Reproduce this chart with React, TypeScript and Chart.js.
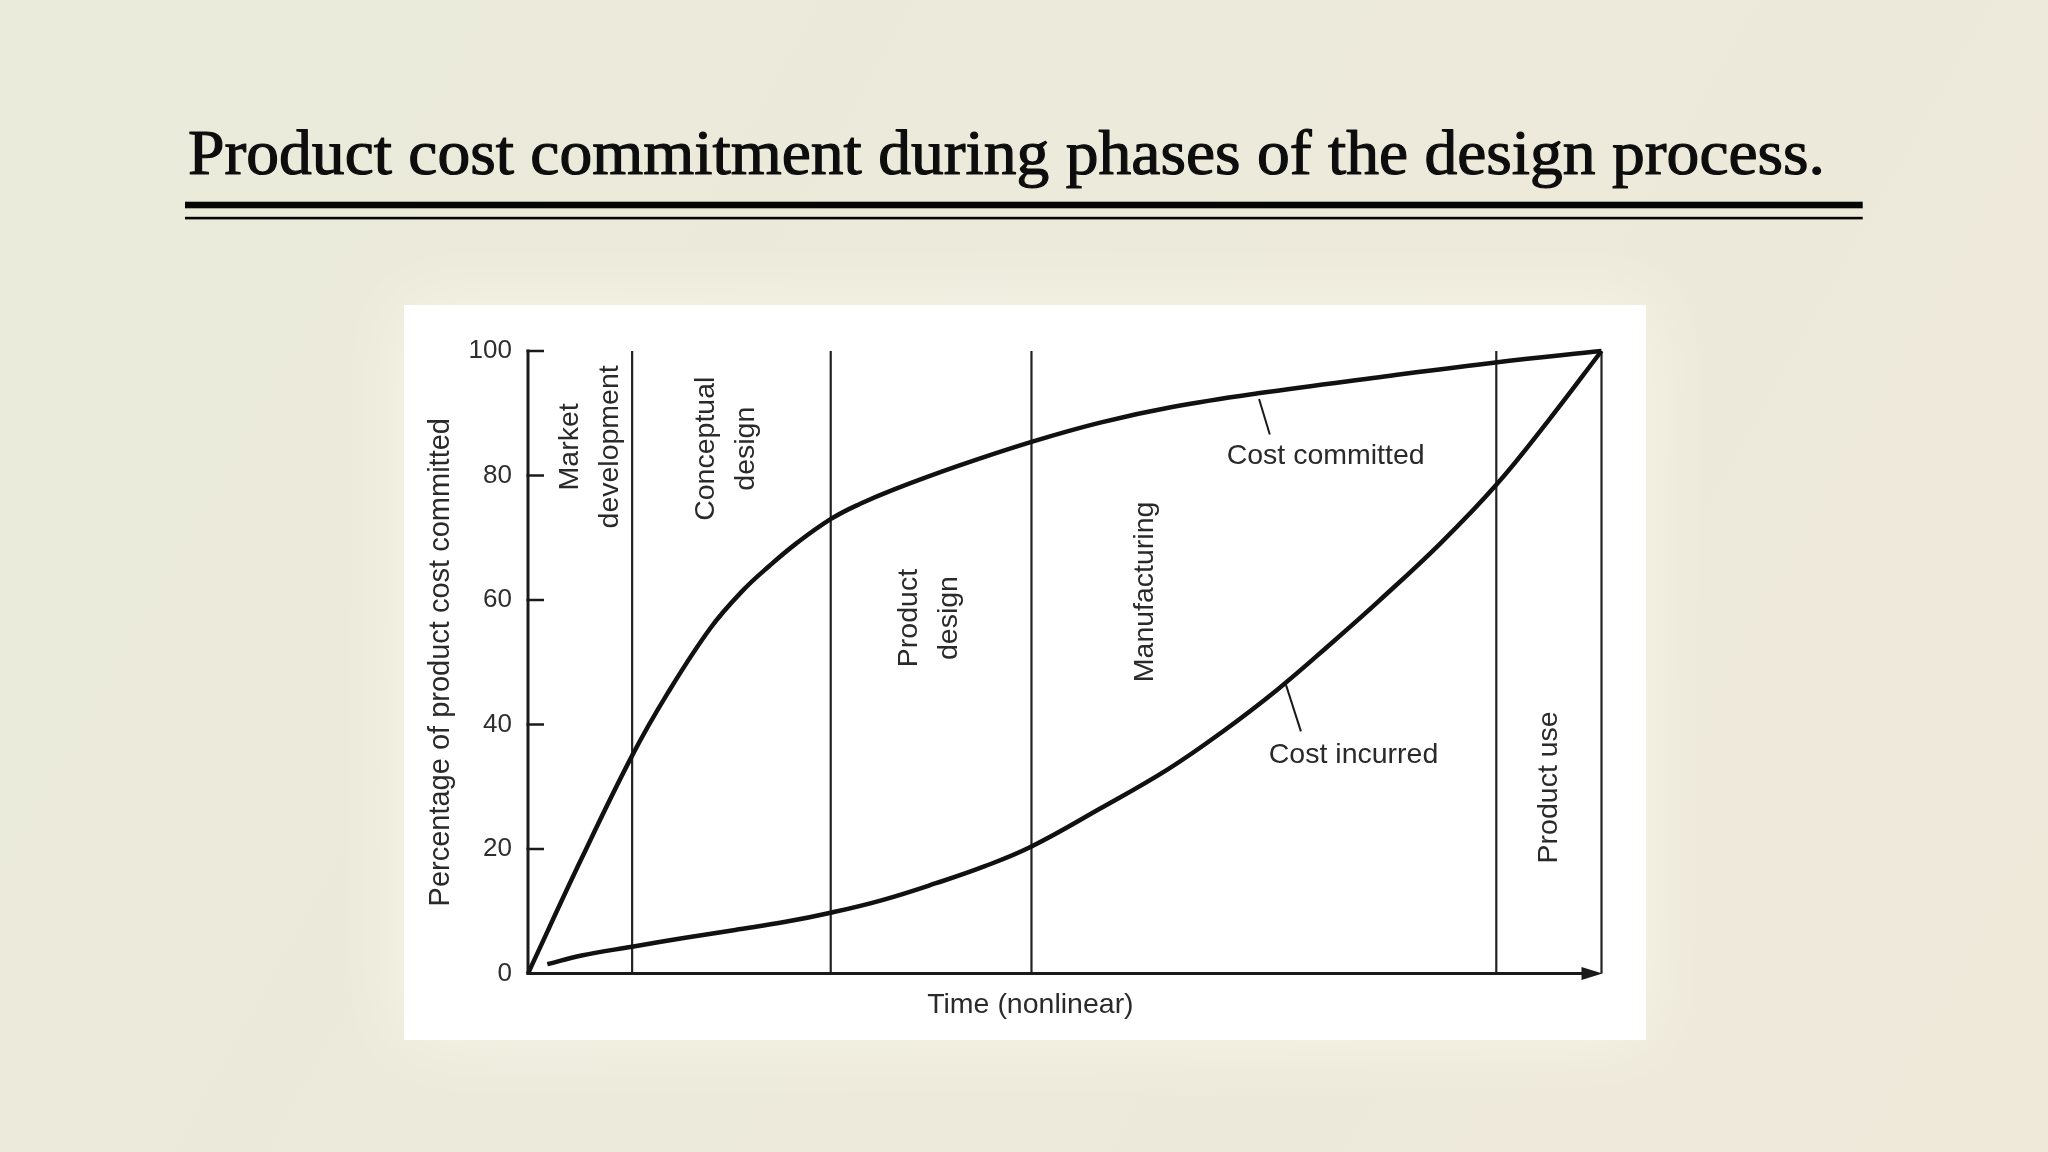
import React, { useEffect, useRef } from 'react';
import { Chart, registerables } from 'chart.js';

Chart.register(...registerables);

// ---------- data ----------
const titleText = 'Product cost commitment during phases of the design process.';
const yAxisTitle = 'Percentage of product cost committed';
const xAxisTitle = 'Time (nonlinear)';

const committedTime = [0, 5, 9.7, 13, 17, 20, 22.5, 25, 28.3, 31, 34, 40, 46.9, 53.3, 60, 68, 79.3, 90.3, 100];
const committedCost = [0, 18.5, 35, 45, 55.5, 61.5, 65.5, 69.1, 73.1, 75.5, 77.7, 81.5, 85.4, 88.5, 91, 93.2, 95.8, 98.2, 100];

const incurredTime = [1.8, 5, 9.7, 14.5, 19.3, 24, 28.3, 33, 38, 42.5, 46.9, 53.3, 59.6, 64.5, 69.8, 75, 79.3, 85, 90.2, 95, 100];
const incurredCost = [1.5, 2.9, 4.3, 5.7, 7.0, 8.3, 9.8, 11.8, 14.5, 17.2, 20.4, 26.5, 32.8, 38.6, 45.6, 53.3, 59.9, 69.1, 78.5, 88.7, 100];

const phaseBoundaries = [9.7, 28.2, 46.9, 90.2, 100];
const phaseNames = [
  ['Market', 'development'],
  ['Conceptual', 'design'],
  ['Product', 'design'],
  ['Manufacturing'],
  ['Product use'],
];
const curveNames = ['Cost committed', 'Cost incurred'];
const yTickValues = [0, 20, 40, 60, 80, 100];

// ---------- layout (data-space anchors for annotations) ----------
const phaseLabelAnchors = [
  { x: 5.8, y: 84.6 },
  { x: 18.5, y: 84.3 },
  { x: 37.4, y: 57.1 },
  { x: 57.5, y: 61.3 },
  { x: 95.1, y: 29.9 },
];
const curveLabelAnchors = [
  { x: 74.3, y: 83.1, lead: [68.1, 92.3, 69.1, 86.6] },
  { x: 76.9, y: 35.1, lead: [70.6, 46.4, 72.0, 38.9] },
];

const W = 2048;
const H = 1152;
const INK = '#1a1a1a';
const TEXT = '#2a2a2a';
const SANS = '"Liberation Sans", Arial, sans-serif';

const decorPlugin = {
  id: 'decor',
  beforeDraw(chart: any) {
    const ctx = chart.ctx as CanvasRenderingContext2D;
    ctx.save();
    const g = ctx.createLinearGradient(0, 0, W, H);
    g.addColorStop(0, '#eaebdb');
    g.addColorStop(1, '#efe9da');
    ctx.fillStyle = g;
    ctx.fillRect(0, 0, W, H);

    // white figure box with a soft light halo
    ctx.fillStyle = '#ffffff';
    ctx.shadowColor = 'rgba(248,246,232,1)';
    ctx.shadowBlur = 70;
    ctx.fillRect(404, 305, 1242, 735);
    ctx.shadowBlur = 0;
    ctx.fillRect(404, 305, 1242, 735);

    // title
    ctx.fillStyle = '#0d0d0d';
    ctx.strokeStyle = '#0d0d0d';
    ctx.lineWidth = 1.1;
    ctx.lineJoin = 'round';
    ctx.font = '60px "Liberation Serif", "Times New Roman", serif';
    ctx.textBaseline = 'alphabetic';
    ctx.textAlign = 'left';
    const w = ctx.measureText(titleText).width;
    const sx = 1637 / w;
    ctx.save();
    ctx.translate(188, 173.5);
    ctx.scale(sx, 1.04);
    ctx.fillText(titleText, 0, 0);
    ctx.strokeText(titleText, 0, 0);
    ctx.restore();

    // double rule
    ctx.fillStyle = '#050505';
    ctx.fillRect(185, 201.7, 1677.7, 6.6);
    ctx.fillRect(185, 216.8, 1677.7, 2.6);
    ctx.restore();
  },
  afterDatasetsDraw(chart: any) {
    const ctx = chart.ctx as CanvasRenderingContext2D;
    const xs = chart.scales.x;
    const ys = chart.scales.y;
    const px = (v: number) => xs.getPixelForValue(v);
    const py = (v: number) => ys.getPixelForValue(v);
    ctx.save();

    // axes
    const x0 = px(0), x1 = px(100), y0 = py(0), y1 = py(100);
    ctx.strokeStyle = INK;
    ctx.lineWidth = 3;
    ctx.lineCap = 'butt';
    ctx.beginPath();
    ctx.moveTo(x0, y1 - 1.5);
    ctx.lineTo(x0, y0);
    ctx.lineTo(x1 - 18, y0);
    ctx.stroke();
    // arrow head
    ctx.fillStyle = INK;
    ctx.beginPath();
    ctx.moveTo(x1 + 1, y0);
    ctx.lineTo(x1 - 20, y0 - 6.5);
    ctx.lineTo(x1 - 20, y0 + 6.5);
    ctx.closePath();
    ctx.fill();

    // inward ticks
    ctx.lineWidth = 2.5;
    yTickValues.forEach((v) => {
      const y = py(v);
      ctx.beginPath();
      ctx.moveTo(x0 - 1.5, y);
      ctx.lineTo(x0 + 16, y);
      ctx.stroke();
    });

    // phase labels (rotated)
    ctx.fillStyle = TEXT;
    ctx.font = `28.5px ${SANS}`;
    ctx.textAlign = 'center';
    ctx.textBaseline = 'middle';
    phaseNames.forEach((lines, i) => {
      const a = phaseLabelAnchors[i];
      ctx.save();
      ctx.translate(px(a.x), py(a.y));
      ctx.rotate(-Math.PI / 2);
      lines.forEach((t, k) => {
        const off = (k - (lines.length - 1) / 2) * 40;
        ctx.fillText(t, 0, off);
      });
      ctx.restore();
    });

    // curve labels + leaders
    ctx.lineWidth = 2;
    curveNames.forEach((t, i) => {
      const a = curveLabelAnchors[i];
      ctx.beginPath();
      ctx.moveTo(px(a.lead[0]), py(a.lead[1]));
      ctx.lineTo(px(a.lead[2]), py(a.lead[3]));
      ctx.stroke();
      ctx.fillText(t, px(a.x), py(a.y));
    });

    // x axis title
    ctx.fillText(xAxisTitle, px(46.8), y0 + 32);
    ctx.restore();
  },
};

export default function App() {
  const ref = useRef<HTMLCanvasElement | null>(null);

  useEffect(() => {
    if (!ref.current) return;
    const committed = committedTime.map((t, i) => ({ x: t, y: committedCost[i] }));
    const incurred = incurredTime.map((t, i) => ({ x: t, y: incurredCost[i] }));
    const phaseLines = phaseBoundaries.map((b) => ({
      label: 'phase',
      data: [{ x: b, y: 0 }, { x: b, y: 100 }],
      borderColor: '#222222',
      borderWidth: 2.2,
      pointRadius: 0,
      tension: 0,
      clip: false,
      order: 2,
    }));

    const chart = new Chart(ref.current, {
      type: 'line',
      data: {
        datasets: [
          ...phaseLines,
          {
            label: curveNames[0],
            data: committed,
            borderColor: '#111111',
            borderWidth: 4.5,
            pointRadius: 0,
            tension: 0.4,
            clip: false,
            order: 1,
          },
          {
            label: curveNames[1],
            data: incurred,
            borderColor: '#111111',
            borderWidth: 4.5,
            pointRadius: 0,
            tension: 0.4,
            clip: false,
            order: 1,
          },
        ] as any,
      },
      options: {
        animation: false,
        responsive: false,
        devicePixelRatio: 1,
        layout: { padding: { left: 0, top: 351, right: 446.5, bottom: 178.5 } },
        plugins: { legend: { display: false }, tooltip: { enabled: false } },
        events: [],
        scales: {
          x: {
            type: 'linear',
            min: 0,
            max: 100,
            display: false,
          },
          y: {
            type: 'linear',
            min: 0,
            max: 100,
            afterFit: (s: any) => {
              s.width = 528;
            },
            afterBuildTicks: (s: any) => {
              s.ticks = yTickValues.map((v) => ({ value: v }));
            },
            grid: { display: false, drawTicks: false },
            border: { display: false },
            ticks: {
              padding: 16,
              color: '#2e2e2e',
              font: { family: SANS, size: 26 },
            },
            title: {
              display: true,
              text: yAxisTitle,
              color: TEXT,
              font: { family: SANS, size: 29 },
              padding: { top: 424, bottom: 0 },
            },
          },
        },
      },
      plugins: [decorPlugin],
    });
    return () => chart.destroy();
  }, []);

  return (
    <div style={{ position: 'absolute', left: 0, top: 0, width: W, height: H }}>
      <canvas ref={ref} width={W} height={H} style={{ display: 'block', width: W, height: H }} />
    </div>
  );
}
